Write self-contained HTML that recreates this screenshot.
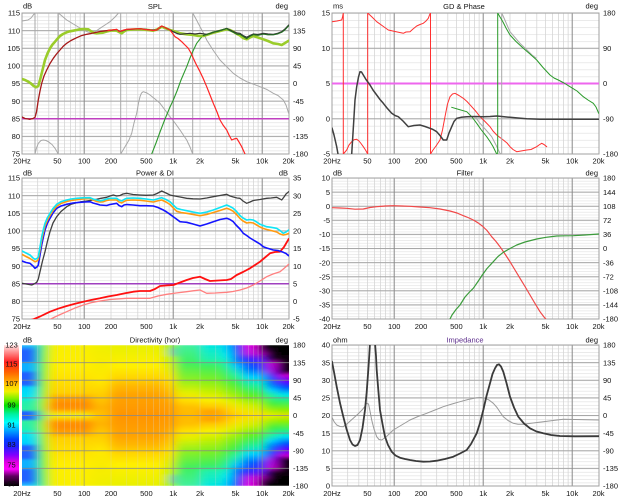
<!DOCTYPE html>
<html><head><meta charset="utf-8">
<style>
html,body{margin:0;padding:0;background:#fff;}
svg{display:block;}
text{font-family:"Liberation Sans",Arial,sans-serif;font-size:7.5px;fill:#111;}
.e{text-anchor:end}.m{text-anchor:middle}
.c{fill:none;stroke-linejoin:round;stroke-linecap:round}
</style></head><body>
<svg width="620" height="500" viewBox="0 0 620 500" xmlns="http://www.w3.org/2000/svg">
<defs>
<path id="vmin" d="M15.67 0v141M26.79 0v141M35.41 0v141M42.46 0v141M48.42 0v141M53.58 0v141M58.14 0v141M89 0v141M104.67 0v141M115.79 0v141M124.41 0v141M131.46 0v141M137.42 0v141M142.58 0v141M147.14 0v141M178 0v141M193.67 0v141M204.79 0v141M213.41 0v141M220.46 0v141M226.42 0v141M231.58 0v141M236.14 0v141" stroke="#d6d6d6" stroke-width="0.8" fill="none"/>
<path id="vmaj" d="M62.21 0v141M151.21 0v141M240.21 0v141" stroke="#8a8a8a" stroke-width="1" fill="none"/>
<pattern id="p1" patternUnits="userSpaceOnUse" x="0" y="13" width="620" height="3.525"><rect y="0" width="620" height="0.7" fill="#e2e2e2"/></pattern>
<pattern id="p2" patternUnits="userSpaceOnUse" x="0" y="13" width="620" height="7.05"><rect y="0" width="620" height="0.7" fill="#e2e2e2"/></pattern>
<pattern id="p3" patternUnits="userSpaceOnUse" x="0" y="178" width="620" height="3.525"><rect y="0" width="620" height="0.7" fill="#e2e2e2"/></pattern>
<pattern id="p4" patternUnits="userSpaceOnUse" x="0" y="178" width="620" height="2.82"><rect y="0" width="620" height="0.7" fill="#e4e4e4"/></pattern>
<pattern id="p5" patternUnits="userSpaceOnUse" x="0" y="345" width="620" height="3.525"><rect y="0" width="620" height="0.7" fill="#e2e2e2"/></pattern>
<clipPath id="c1"><rect x="22" y="13" width="267" height="141"/></clipPath>
<clipPath id="c2"><rect x="332" y="13" width="267" height="141"/></clipPath>
<clipPath id="c3"><rect x="22" y="178" width="267" height="141"/></clipPath>
<clipPath id="c4"><rect x="332" y="178" width="267" height="141"/></clipPath>
<clipPath id="c5"><rect x="22" y="345" width="267" height="141"/></clipPath>
<clipPath id="c6"><rect x="332" y="345" width="267" height="141"/></clipPath>
<filter id="bl" x="-10%" y="-5%" width="120%" height="110%"><feGaussianBlur stdDeviation="5 0.8"/></filter>
<linearGradient id="cb" x1="0" y1="0" x2="0" y2="1">
<stop offset="0" stop-color="#ffe8e8"/><stop offset=".05" stop-color="#ff9090"/><stop offset=".12" stop-color="#ff2020"/><stop offset=".19" stop-color="#ff6000"/><stop offset=".25" stop-color="#ffa000"/><stop offset=".29" stop-color="#ffd000"/><stop offset=".33" stop-color="#f0f000"/><stop offset=".38" stop-color="#80f000"/><stop offset=".43" stop-color="#00e000"/><stop offset=".49" stop-color="#00f0a0"/><stop offset=".55" stop-color="#00ffff"/><stop offset=".6" stop-color="#00b0ff"/><stop offset=".67" stop-color="#0040ff"/><stop offset=".72" stop-color="#2020ff"/><stop offset=".78" stop-color="#8000ff"/><stop offset=".83" stop-color="#e000e0"/><stop offset=".88" stop-color="#ff00ff"/><stop offset=".93" stop-color="#600060"/><stop offset="1" stop-color="#000"/>
</linearGradient>
<linearGradient id="d1" x1="0" y1="0" x2="0" y2="0.5" spreadMethod="reflect"><stop offset="0" stop-color="#20c8ff"/><stop offset=".083" stop-color="#2060ff"/><stop offset=".22" stop-color="#2060ff"/><stop offset=".26" stop-color="#10b0ff"/><stop offset=".36" stop-color="#10b0ff"/><stop offset=".4" stop-color="#2060ff"/><stop offset=".56" stop-color="#2060ff"/><stop offset=".6" stop-color="#00d0ff"/><stop offset=".75" stop-color="#00e8f0"/><stop offset=".8" stop-color="#20f0b0"/><stop offset=".92" stop-color="#30f0a0"/><stop offset=".95" stop-color="#2060ff"/><stop offset="1" stop-color="#2060ff"/></linearGradient>
<linearGradient id="d2" x1="0" y1="0" x2="0" y2="0.5" spreadMethod="reflect"><stop offset="0" stop-color="#30f080"/><stop offset=".3" stop-color="#40f050"/><stop offset=".6" stop-color="#50f040"/><stop offset=".85" stop-color="#80f030"/><stop offset="1" stop-color="#40f080"/></linearGradient>
<linearGradient id="d3" x1="0" y1="0" x2="0" y2="0.5" spreadMethod="reflect"><stop offset="0" stop-color="#b0f010"/><stop offset=".5" stop-color="#d0f000"/><stop offset=".8" stop-color="#f0e000"/><stop offset=".9" stop-color="#ffc800"/><stop offset="1" stop-color="#c0f010"/></linearGradient>
<linearGradient id="d4" x1="0" y1="0" x2="0" y2="0.5" spreadMethod="reflect"><stop offset="0" stop-color="#f8f000"/><stop offset=".3" stop-color="#ffee00"/><stop offset=".5" stop-color="#ffe000"/><stop offset=".68" stop-color="#ffd000"/><stop offset=".76" stop-color="#ffa000"/><stop offset=".84" stop-color="#ff8c00"/><stop offset=".9" stop-color="#ff9400"/><stop offset=".96" stop-color="#ffd000"/><stop offset="1" stop-color="#e8f020"/></linearGradient>
<linearGradient id="d4b" x1="0" y1="0" x2="0" y2="0.5" spreadMethod="reflect"><stop offset="0" stop-color="#f0f000"/><stop offset=".5" stop-color="#ffe800"/><stop offset=".75" stop-color="#ffc800"/><stop offset=".88" stop-color="#ffb400"/><stop offset="1" stop-color="#ffc000"/></linearGradient>
<linearGradient id="d5" x1="0" y1="0" x2="0" y2="0.5" spreadMethod="reflect"><stop offset="0" stop-color="#e8f000"/><stop offset=".3" stop-color="#fff000"/><stop offset=".45" stop-color="#ffd800"/><stop offset=".58" stop-color="#ffb800"/><stop offset=".7" stop-color="#ffa400"/><stop offset=".85" stop-color="#ff9c00"/><stop offset="1" stop-color="#ff9400"/></linearGradient>
<linearGradient id="d6" x1="0" y1="0" x2="0" y2="0.5" spreadMethod="reflect"><stop offset="0" stop-color="#90f020"/><stop offset=".25" stop-color="#c8f000"/><stop offset=".5" stop-color="#ffe000"/><stop offset=".7" stop-color="#ffb800"/><stop offset=".85" stop-color="#ffa000"/><stop offset="1" stop-color="#ff9800"/></linearGradient>
<linearGradient id="d7" x1="0" y1="0" x2="0" y2="0.5" spreadMethod="reflect"><stop offset="0" stop-color="#40f0a0"/><stop offset=".25" stop-color="#40f060"/><stop offset=".5" stop-color="#90f020"/><stop offset=".67" stop-color="#e0f000"/><stop offset=".78" stop-color="#ffe000"/><stop offset=".88" stop-color="#ffc000"/><stop offset="1" stop-color="#ffb800"/></linearGradient>
<linearGradient id="d8" x1="0" y1="0" x2="0" y2="0.5" spreadMethod="reflect"><stop offset="0" stop-color="#00e8e0"/><stop offset=".2" stop-color="#20f0b0"/><stop offset=".3" stop-color="#40f060"/><stop offset=".5" stop-color="#80f020"/><stop offset=".67" stop-color="#c8f000"/><stop offset=".78" stop-color="#f8f000"/><stop offset=".88" stop-color="#ffc800"/><stop offset=".94" stop-color="#ffa400"/><stop offset="1" stop-color="#ffa800"/></linearGradient>
<linearGradient id="d9" x1="0" y1="0" x2="0" y2="0.5" spreadMethod="reflect"><stop offset="0" stop-color="#00c0ff"/><stop offset=".15" stop-color="#00e8f0"/><stop offset=".3" stop-color="#20f0a0"/><stop offset=".5" stop-color="#50f040"/><stop offset=".67" stop-color="#a0f010"/><stop offset=".8" stop-color="#e8f000"/><stop offset=".9" stop-color="#ffd000"/><stop offset="1" stop-color="#ffb800"/></linearGradient>
<linearGradient id="d10" x1="0" y1="0" x2="0" y2="0.5" spreadMethod="reflect"><stop offset="0" stop-color="#0030ff"/><stop offset=".2" stop-color="#0060ff"/><stop offset=".3" stop-color="#00c0ff"/><stop offset=".42" stop-color="#20f0b0"/><stop offset=".55" stop-color="#40f040"/><stop offset=".7" stop-color="#90f010"/><stop offset=".83" stop-color="#e0f000"/><stop offset=".93" stop-color="#ffe000"/><stop offset="1" stop-color="#ffd000"/></linearGradient>
<linearGradient id="d11" x1="0" y1="0" x2="0" y2="0.5" spreadMethod="reflect"><stop offset="0" stop-color="#e000e0"/><stop offset=".12" stop-color="#c010e0"/><stop offset=".2" stop-color="#4020ff"/><stop offset=".33" stop-color="#0060ff"/><stop offset=".45" stop-color="#00d0ff"/><stop offset=".58" stop-color="#20f090"/><stop offset=".72" stop-color="#60f020"/><stop offset=".86" stop-color="#d0f000"/><stop offset="1" stop-color="#ffe000"/></linearGradient>
<linearGradient id="d12" x1="0" y1="0" x2="0" y2="0.5" spreadMethod="reflect"><stop offset="0" stop-color="#000"/><stop offset=".12" stop-color="#a000b0"/><stop offset=".22" stop-color="#6020ff"/><stop offset=".33" stop-color="#0040ff"/><stop offset=".44" stop-color="#00b0ff"/><stop offset=".55" stop-color="#00f0c0"/><stop offset=".7" stop-color="#40f040"/><stop offset=".86" stop-color="#b0f000"/><stop offset="1" stop-color="#ffe000"/></linearGradient>
<linearGradient id="d13" x1="0" y1="0" x2="0" y2="0.5" spreadMethod="reflect"><stop offset="0" stop-color="#000"/><stop offset=".18" stop-color="#200020"/><stop offset=".26" stop-color="#c000d0"/><stop offset=".38" stop-color="#a000e0"/><stop offset=".46" stop-color="#3030ff"/><stop offset=".55" stop-color="#0060ff"/><stop offset=".64" stop-color="#00d0ff"/><stop offset=".72" stop-color="#20f0a0"/><stop offset=".83" stop-color="#40f040"/><stop offset=".94" stop-color="#b0f000"/><stop offset="1" stop-color="#e0f000"/></linearGradient>
<linearGradient id="d14" x1="0" y1="0" x2="0" y2="0.5" spreadMethod="reflect"><stop offset="0" stop-color="#000"/><stop offset=".36" stop-color="#100010"/><stop offset=".43" stop-color="#c000d0"/><stop offset=".52" stop-color="#6000ff"/><stop offset=".6" stop-color="#0050ff"/><stop offset=".7" stop-color="#00e0f0"/><stop offset=".8" stop-color="#30f070"/><stop offset=".92" stop-color="#90f000"/><stop offset="1" stop-color="#e0e000"/></linearGradient>
</defs>

<rect width="620" height="500" fill="#fff"/>

<!-- ========== GRIDS ========== -->
<rect x="22" y="13" width="267" height="141" fill="url(#p1)"/>
<use href="#vmin" x="22" y="13"/>
<path d="M22 30.63h267M22 48.25h267M22 65.88h267M22 83.5h267M22 101.13h267M22 118.75h267M22 136.38h267" stroke="#a8a8a8" stroke-width="1" fill="none"/>
<use href="#vmaj" x="22" y="13"/>
<rect x="22" y="13" width="267" height="141" fill="none" stroke="#a0a0a0" stroke-width="1"/>

<rect x="332" y="13" width="267" height="141" fill="url(#p2)"/>
<use href="#vmin" x="332" y="13"/>
<path d="M332 48.25h267M332 83.5h267M332 118.75h267" stroke="#a8a8a8" stroke-width="1" fill="none"/>
<use href="#vmaj" x="332" y="13"/>
<rect x="332" y="13" width="267" height="141" fill="none" stroke="#a0a0a0" stroke-width="1"/>

<rect x="22" y="178" width="267" height="141" fill="url(#p3)"/>
<use href="#vmin" x="22" y="178"/>
<path d="M22 195.63h267M22 213.25h267M22 230.88h267M22 248.5h267M22 266.13h267M22 283.75h267M22 301.38h267" stroke="#a8a8a8" stroke-width="1" fill="none"/>
<use href="#vmaj" x="22" y="178"/>
<rect x="22" y="178" width="267" height="141" fill="none" stroke="#a0a0a0" stroke-width="1"/>

<rect x="332" y="178" width="267" height="141" fill="url(#p4)"/>
<use href="#vmin" x="332" y="178"/>
<path d="M332 192.1h267M332 206.2h267M332 220.3h267M332 234.4h267M332 248.5h267M332 262.6h267M332 276.7h267M332 290.8h267M332 304.9h267" stroke="#a8a8a8" stroke-width="1" fill="none"/>
<use href="#vmaj" x="332" y="178"/>
<rect x="332" y="178" width="267" height="141" fill="none" stroke="#a0a0a0" stroke-width="1"/>

<rect x="332" y="345" width="267" height="141" fill="url(#p5)"/>
<use href="#vmin" x="332" y="345"/>
<path d="M332 362.63h267M332 380.25h267M332 397.88h267M332 415.5h267M332 433.13h267M332 450.75h267M332 468.38h267" stroke="#a8a8a8" stroke-width="1" fill="none"/>
<use href="#vmaj" x="332" y="345"/>
<rect x="332" y="345" width="267" height="141" fill="none" stroke="#a0a0a0" stroke-width="1"/>

<!-- ========== DIRECTIVITY HEATMAP ========== -->
<g clip-path="url(#c5)">
<g filter="url(#bl)">
<rect x="0" y="345" width="37.5" height="141" fill="url(#d1)"/>
<rect x="37" y="345" width="8.5" height="141" fill="url(#d2)"/>
<rect x="45" y="345" width="5.5" height="141" fill="url(#d3)"/>
<rect x="50" y="345" width="42.5" height="141" fill="url(#d4)"/>
<rect x="92" y="345" width="18.5" height="141" fill="url(#d4b)"/>
<rect x="110" y="345" width="55.5" height="141" fill="url(#d5)"/>
<rect x="165" y="345" width="11.5" height="141" fill="url(#d6)"/>
<rect x="176" y="345" width="24.5" height="141" fill="url(#d7)"/>
<rect x="200" y="345" width="22.5" height="141" fill="url(#d8)"/>
<rect x="222" y="345" width="10.5" height="141" fill="url(#d9)"/>
<rect x="232" y="345" width="11.5" height="141" fill="url(#d10)"/>
<rect x="243" y="345" width="15.5" height="141" fill="url(#d11)"/>
<rect x="258" y="345" width="8.5" height="141" fill="url(#d12)"/>
<rect x="266" y="345" width="12.5" height="141" fill="url(#d13)"/>
<rect x="278" y="345" width="36" height="141" fill="url(#d14)"/>
<ellipse cx="173" cy="352" rx="1.5" ry="5" fill="#2080ff"/>
<ellipse cx="173" cy="479" rx="1.5" ry="5" fill="#2080ff"/>
</g>
<use href="#vmin" x="22" y="345" opacity="0.35"/>
<use href="#vmaj" x="22" y="345" opacity="0.6"/>
<path d="M22 362.63h267M22 380.25h267M22 397.88h267M22 415.5h267M22 433.13h267M22 450.75h267M22 468.38h267" stroke="#8a8a8a" stroke-width="1" opacity="0.8" fill="none"/>
</g>
<rect x="4" y="345" width="15" height="141" fill="url(#cb)"/>

<!-- ========== SPL CURVES ========== -->
<g clip-path="url(#c1)">
<path class="c" stroke="#a8a8a8" stroke-width="1" d="M22,21 28,20 31,18 33.3,15 35,13 L35,154 36.5,148 38.3,143.3 41,140.5 43.3,140 46,140.5 48.3,141.7 52,144.5 55,148.3 58.3,154 L58.3,13 62,16 66.7,20 75,25 83.3,30 88,32 91.7,33.3 96,31 100,28.3 105,25 110,21.7 115,17 118.3,13.3 120.7,13 L120.7,154 125,146.7 129,140 131.7,133.3 134,123 136.7,113.3 138.5,103 140,96.7 141.5,93 143.3,91.7 147,93 150,95 155,99 160,103.3 165,110 170,116.7 175,123 180,130 184,136 186.7,140 190,147 192.7,154 L192.7,13 196,19 200,26.7 204,34 206.7,40 213,50 220,60 226,66 233.3,73.3 240,78 246.7,81.7 253,84 260,86.7 267,89.5 273.3,93.3 278,95.5 283.3,100 286,105 288.7,113.3"/>
<path class="c" stroke="#c040c0" stroke-width="1.5" d="M22 118.75H289"/>
<path class="c" stroke="#2f9a2f" stroke-width="1.1" d="M151.7,154 156,143 160,132 165,119 170,107 173.3,100 177,91 181,80 186.7,66.7 190,58 193,51 196.7,43.3 200,39 203.3,35 207,34"/>
<path class="c" stroke="#9acc2a" stroke-width="2.6" d="M22,79 25,80 28.3,81.7 31,83.5 33.3,85.7 36,87.3 38.3,86 40,80 41.7,73.3 43.5,66 45,60 47.5,53.5 50,48.3 52.5,44.5 55,41.7 57.5,38.7 60,36 63,34 66.7,32.3 70,31.3 73.3,30.7 76.7,30 80,29.3 84,29 88.3,29.3 90,30.5 91.7,31.7 94,32.8 96.7,33.3 100,33 103,32.7 106.7,31.5 110,30.7 113,30.5 116.7,30.7 119,32 121.7,33.3 124,31.5 126.7,30 133,29.5 140,29.3 146,29.8 153.3,30.7 157,29.5 161.7,26.7 165,28 170,30 175,31.5 180,33.3 186.7,34.3 193.3,35 198,35.8 203.3,36 208,34.5 213.3,32.7 220,31 226.7,29.3 230,30 233.3,31.7 237,34 240,35.5 243,38 246.7,39.3 250,37.5 253.3,36 258,37.5 263.3,39.3 268,41 273.3,43.3 278,44 281.7,45 285,43 288.7,40.7"/>
<path class="c" stroke="#333" stroke-width="1.2" d="M110,30.5 116.7,29.5 120,31.5 126.7,29.5 140,28.7 150,29.8 156.7,30 161.7,26 166,28 170,30 173.3,31.7 177,33.5 180,34.3 185,33.8 190,33.3 195,34 200,33.3 206.7,34.3 210,33.5 213.3,32.3 218,31 222,30 226.7,28.3 230,30 233.3,31.5 237,33 240,33.3 243,35.5 246.7,37.3 250,35.5 253.3,34 258,34.5 263.3,33.3 268,34 273.3,34.3 278,33.2 281.7,31.7 285,29 288.7,25"/>
<path class="c" stroke="#236b23" stroke-width="1.1" d="M203.3,35.5 207,34.5 210,33.5 213.3,32 218,31.3 222,29.8 226.7,28.6 230,30.8 233.3,32.3 237,34.3 240,34.3 243,36.3 246.7,38.6 250,36.3 253.3,34.6 258,35.3 263.3,34.1 268,34.8 273.3,34.8 278,33.8 281.7,32.3 285,29.8 288.7,25.8"/>
<path class="c" stroke="#a51818" stroke-width="1.3" d="M22,117 25,118.5 28,119 30,119.3 33,118.5 35,117.3 36.5,112 38.3,100 40,91 41.7,83.3 44,76 46.7,70 50,63.5 53.3,58.3 56.5,54 60,50 63,46.5 66.7,43.3 71,40.5 76.7,37.7 81,35.8 86.7,34.3 91,33.5 96.7,32.3 101,31.3 106.7,30.7 110,30.2"/>
<path class="c" stroke="#ff2424" stroke-width="1.2" d="M108,30.5 112,30 116.7,29.3 119,31.5 121,31 124,30 126.7,29.3 133,29 140,28.7 145,29.5 150,30 153,30.5 156.7,30 159,28 161.7,26 165,27.5 170,30 175,36.7 178,38.5 181.7,41.7 185,45 188.3,48.3 191,53 193.3,58.3 196,64 200,71.7 203,78 206.7,86.7 210,95 213.3,103.3 217,112 220,120 223,125 226.7,130 229,135 231.7,140 234,139 236.7,138.3 239,142 241.7,146.7 245,154"/>
</g>

<!-- ========== GD CURVES ========== -->
<g clip-path="url(#c2)">
<path class="c" stroke="#ee66ee" stroke-width="2" d="M332 83.5H599"/>
<path class="c" stroke="#ff3030" stroke-width="1" d="M332,21.7 337,21 341.7,20 342.5,17 343.3,13 L343.3,154 345,152 346.7,150 349,145 351.7,141.7 354,139.7 356.7,139.3 359,141 361,143.5 363.3,146.7 365.5,150 367.7,154 L367.7,13 372,17 376.7,21.7 382,25.5 388.3,30 395,31.5 403.3,33.3 406,32 410,31.7 413,29 416.7,26 420,24.5 423.3,23.3 426,21 428.3,18.3 429.5,15 430.5,13 L430.5,154 433,150 436,146 440,140 442.5,130 445,116.7 447.5,104 450,96.7 452.5,94 455,93.3 459,95.5 463.3,98.3 467,101.5 471.7,106.7 476,111.5 480,116.7 485,121.5 490,126.7 493,131 496.7,135 500,137.5 503.3,140 507,143 510,146.7 513,149.5 516.7,151.7 521,151 526.7,150 531,149.5 536.7,146.7 539,145 541.7,143.3 544,144.5 546.7,146.7"/>
<path class="c" stroke="#a8a8a8" stroke-width="1" d="M476,118 480,123.3 486,130 491.7,136.7 496,145 500,153.3 501.7,154 L501.7,13 504,18 507,25 510,31.7 515,37.5 520,43.3 526,49 532,55 536,58"/>
<path class="c" stroke="#2a9a2a" stroke-width="1" d="M451.7,107.3 459,109.5 466.7,111.7 472,117 476.7,123.3 481,129.5 486.7,136.7 490,141.5 493,146.5 496.7,154 L497.7,154 L497.7,13 500,17 503,22 506,28 510,35 516,41.5 523.3,48.3 530,54 536.7,60 543,67.5 550,75 554,78 558.3,80 564,83 570,86.7 577,91 583.3,96.7 588,100 593.3,103.3 596,107 598.7,113.3"/>
<path class="c" stroke="#404040" stroke-width="1.5" d="M332,128 334,135 336.7,146.7 338,154 M351.7,154 353.5,125 355,100 356.7,86.7 358.5,77 360,71.7 361.5,72 363.3,75 366,79.5 370,85 373,90 376.7,95 380,99.5 383.3,103.3 387,108 391.7,113.3 395,115.5 398.3,116.7 403,121 408.3,126.7 414,125.5 420,125 425,126.5 430,128.3 433,129.5 436.7,131.7 440,135.5 443.3,140 446.7,140 449,133 451.7,126.7 454,121.5 456.7,118.3 461,117.3 466.7,116.7 475,116.5 483.3,116.7 490,116.5 496.7,116 503,116.6 510,117.3 518,118 526.7,118.7 540,119.2 550,119.3 570,119.3 599,119.3"/>
</g>

<!-- ========== POWER & DI CURVES ========== -->
<g clip-path="url(#c3)">
<path class="c" stroke="#a040c0" stroke-width="1.5" d="M22 283.75H289"/>
<path class="c" stroke="#ff8080" stroke-width="1.3" d="M48,320 50,319.3 58,315.5 66.7,311.7 75,308 83.3,305 91,302.8 100,301 110,299.5 126.7,298.3 140,298.3 150,298.3 158,296 166.7,294.3 176,293 186.7,291.7 193,290.8 200,290 206.7,293.3 215,293 226.7,292.3 233,291.5 240,290 246.7,288 253.3,285 260,281 266.7,276.7 273,274 280,271.7 284.5,268 288.7,264.3"/>
<path class="c" stroke="#ff1010" stroke-width="1.8" d="M22,323 27,321 33.3,319.3 40,316.5 50,311.7 58,308.7 66.7,306 75,303.8 83.3,301.7 91,300 100,298.3 108,296.5 116.7,295 125,293.3 133.3,291.7 140,291 150,291 155,289 160,286 166,285.5 173.3,285 180,282.5 186.7,280 193,278 200,276.7 205,279 210,281 218,280.5 226.7,280 231,279 236.7,275 243,272 250,268.3 255,265 260,261.7 265,257.5 270,253.3 275,252 280,251.7 284,247 288.7,239"/>
<path class="c" stroke="#404040" stroke-width="1.3" d="M22,283.3 26,284 29,284.5 31.7,285 34,284 36.7,282.3 38.3,279 40,271.7 42.5,261 45,251.7 47.5,241 50,231.7 53,223 56.7,216.7 61,211.5 66.7,206.7 71,204.3 76.7,202.7 81,201.8 86.7,201 91,200.3 96.7,199.3 101,198.3 106.7,197.3 110,196 113.3,195 116.7,196 120,195.5 123,194 126.7,193.3 133,194.5 140,195 146,195.3 153.3,195 157,193.5 161.7,191 166,193 170,195 173.3,195.7 180,197 186.7,198.3 193,198.8 200,199 206.7,198 213.3,196.7 220,195.5 226.7,194.3 230,196 233.3,197 237,198 240,198.3 243,201 246.7,203.3 250,202 253.3,200.5 256.7,200 260,199.5 266.7,198.3 271,198 276.7,197.3 280,199 281.7,200 284,197 286,194 288.7,191.7"/>
<path class="c" stroke="#1414ff" stroke-width="1.6" d="M22,261 26,262.5 30,263.3 33,266 35,268.3 37,267 38.3,265 40,255 41.7,245 43.5,236.5 45,230 47.5,223 50,218.3 53,213 56.7,208.3 61,206 66.7,204.3 73,203 80,202.3 85,202 90,201.7 93,203 96.7,204 100,205 106.7,205.5 110,204.5 116.7,203.3 119,205.5 121.7,206.7 124,205 126.7,204.5 133,205 140,205.7 146,205.7 153.3,206 158,207.5 163.3,210 166.7,212 170,214.3 175,218 180,221.7 183,222 186.7,222.3 193,224 200,226 206.7,224 213.3,221.7 220,219.5 226.7,218.3 230,219.5 233.3,221.7 236,225 240,229 243.3,233.3 246.7,235.5 250,238 253.3,240 256.7,242 260,244 263.3,246.7 266.7,248 273.3,250 278,250.5 283.3,252.3 286,253.5 288.7,255.7"/>
<path class="c" stroke="#ff9a10" stroke-width="1.6" d="M22,254.3 26,256.5 30,258.5 33,260.5 35,261.7 37,261 38.3,259.5 40,250 41.7,240 43.5,232 45,226 47.5,220 50,215.5 53,210.5 56.7,206.3 61,203.5 66.7,201.5 71,200.5 76.7,199.7 83,199 90,198.5 93,200 96.7,201.5 100,202 103,201.8 106.7,200.5 110,200 116.7,200 119,202 121.7,203 124,201.5 126.7,200.3 133,200 140,200.3 146,201 153.3,202 157,201 161.7,200 166,202 170,204.5 173.3,208 176.7,211.3 181,212.5 186.7,213.3 193,214.5 200,215.7 206.7,214.5 213.3,212.5 220,210.5 226.7,208.3 230,209.5 233.3,211.3 237,215 240,218.5 243,221 246.7,223 250,222.5 253.3,223 256.7,225 260,227 263.3,228.5 266.7,229.5 271,230.5 276.7,232 280,234 283.3,235 286,234.5 288.7,233.5"/>
<path class="c" stroke="#10e4f4" stroke-width="1.6" d="M22,251 26,253 30,255 33,258 35,259.3 37,258.5 38.3,256.7 40,247 41.7,236.7 43.5,229 45,223.3 47.5,217.5 50,213.3 53,208.5 56.7,204.3 61,201.7 66.7,200 71,199 76.7,198.3 83,197.8 90,197.7 93,199 96.7,200 100,200.8 103,200.3 106.7,199 110,198.3 116.7,198.3 119,200 121.7,201 124,199.5 126.7,198.3 133,198 140,198.3 146,199 153.3,200 157,199 161.7,197.7 166,199.5 170,201.7 173.3,205 176.7,208.3 181,209.5 186.7,210.7 193,212 200,213.3 206.7,212 213.3,210 220,207.5 226.7,205 230,206.5 233.3,208.3 237,212 240,215.5 243,218 246.7,220 250,219.5 253.3,220 256.7,222 260,224.3 263.3,225.5 266.7,226.7 271,227.3 276.7,228.3 280,230.5 283.3,233.3 286,232 288.7,230"/>
</g>

<!-- ========== FILTER CURVES ========== -->
<g clip-path="url(#c4)">
<path class="c" stroke="#f04848" stroke-width="1.2" d="M332,207.7 340,208 346.7,208.3 355,209.2 363.3,209 370,207.5 376.7,206.7 385,206 393.3,205.7 402,206 410,206.3 420,207 430,207.7 440,209 450,211 457,213 463.3,215.7 468,217.5 473.3,220 478,222.8 482.3,226 487,230.5 491.7,236.7 496,241.5 500,246.7 505,254 510,261.7 515,270 520,278.3 525,286.5 530,295 535,303.5 540,311.7 544,317 548.3,321.7"/>
<path class="c" stroke="#3c9c3c" stroke-width="1.2" d="M449,321 452,315 456,309.5 460,305 465,297 470,291.5 473.3,288.3 478,281.5 482.3,275 487,268.5 493.3,261.7 498,256.5 503.3,252.3 510,248.5 516.7,245 525,242 536.7,239 546,237.3 556.7,236 565,235.8 573.3,235.7 585,235 598.7,234"/>
</g>

<!-- ========== IMPEDANCE CURVES ========== -->
<g clip-path="url(#c6)">
<path class="c" stroke="#9a9a9a" stroke-width="1" d="M332,417.3 334,421.5 336.7,425 340,426.5 343.3,426.7 348,423 353.3,418.3 358,414 362,410 364.5,407 366.7,403.3 368.5,404 370,411 371.7,420 374,429 376.7,436.7 379,439.5 381.7,440 386,437 393.3,430 400,426 410,420 418,416.5 426.7,413.3 435,410 443.3,406.7 452,404 460,401.7 468,399.5 476.7,397.7 481,397.5 485,398.3 489,400 493.3,403.3 497,407.5 500,412 503.3,416.7 508,420.5 513.3,423.3 518,424.2 523.3,424.3 533,423 543.3,421.7 553,420.5 563.3,419.3 575,419.5 598.7,420"/>
<path class="c" stroke="#3a3a3a" stroke-width="1.8" d="M332,361.7 334,372 336.7,386.7 340,403 343.3,416.7 346.5,429 350,440 352.5,444.5 355,446 357.5,445 360,440 362.5,428 365,410 366.7,392 368.3,370 369.3,355 370,343 M375,343 376,356 376.7,370 378.3,390 380,410 382.5,424 385,436.7 388,445 391.7,451.7 395.5,455.5 400,457.7 405,459 410,460 416,461 423.3,461.7 430,461.5 436.7,460.7 445,459 453.3,456.7 460,453.5 466.7,450 471,444 476.7,433.3 480,423 483.3,410 486.5,396 490,383.3 492.5,374 495,368.3 497,365 499,364.3 501,366.5 503.3,371.7 506.5,383 510,396.7 514,407.5 518.3,416.7 524,423.5 530,428.3 536.5,431.5 543.3,433.3 551,435 560,436 575,436.3 598.7,436.2"/>
</g>

<!-- ========== TEXT ========== -->
<text class="m" x="155" y="9">SPL</text>
<text class="m" x="464" y="9">GD &amp; Phase</text>
<text class="m" x="155" y="175.5">Power &amp; DI</text>
<text class="m" x="465" y="175.5">Filter</text>
<text class="m" x="155" y="342.5">Directivity (hor)</text>
<text class="m" x="465" y="342.5" style="fill:#5a2a8a">Impedance</text>

<text x="23" y="8.5">dB</text><text class="e" x="288" y="8.5">deg</text>
<text x="333" y="8.5">ms</text><text class="e" x="598" y="8.5">deg</text>
<text x="23" y="175.5">dB</text><text class="e" x="288" y="175.5">dB</text>
<text x="333" y="175.5">dB</text><text class="e" x="598" y="175.5">deg</text>
<text x="23" y="342.5">dB</text><text class="e" x="288" y="342.5">deg</text>
<text x="333" y="342.5">ohm</text><text class="e" x="598" y="342.5">deg</text>

<text class="e" x="20" y="15.7">115</text><text class="e" x="20" y="33.3">110</text><text class="e" x="20" y="51">105</text><text class="e" x="20" y="68.6">100</text><text class="e" x="20" y="86.2">95</text><text class="e" x="20" y="103.8">90</text><text class="e" x="20" y="121.5">85</text><text class="e" x="20" y="139.1">80</text><text class="e" x="20" y="156.7">75</text>
<text x="293" y="15.7">180</text><text x="293" y="33.3">135</text><text x="293" y="51">90</text><text x="293" y="68.6">45</text><text x="293" y="86.2">0</text><text x="293" y="103.8">-45</text><text x="293" y="121.5">-90</text><text x="293" y="139.1">-135</text><text x="293" y="156.7">-180</text>

<text class="e" x="330" y="15.7">15</text><text class="e" x="330" y="51">10</text><text class="e" x="330" y="86.2">5</text><text class="e" x="330" y="121.5">0</text><text class="e" x="330" y="156.7">-5</text>
<text x="603" y="15.7">180</text><text x="603" y="51">90</text><text x="603" y="86.2">0</text><text x="603" y="121.5">-90</text><text x="603" y="156.7">-180</text>

<text class="e" x="20" y="180.7">115</text><text class="e" x="20" y="198.3">110</text><text class="e" x="20" y="216">105</text><text class="e" x="20" y="233.6">100</text><text class="e" x="20" y="251.2">95</text><text class="e" x="20" y="268.8">90</text><text class="e" x="20" y="286.5">85</text><text class="e" x="20" y="304.1">80</text><text class="e" x="20" y="321.7">75</text>
<text x="293" y="180.7">35</text><text x="293" y="198.3">30</text><text x="293" y="216">25</text><text x="293" y="233.6">20</text><text x="293" y="251.2">15</text><text x="293" y="268.8">10</text><text x="293" y="286.5">5</text><text x="293" y="304.1">0</text><text x="293" y="321.7">-5</text>

<text class="e" x="330" y="180.7">10</text><text class="e" x="330" y="194.8">5</text><text class="e" x="330" y="208.9">0</text><text class="e" x="330" y="223">-5</text><text class="e" x="330" y="237.1">-10</text><text class="e" x="330" y="251.2">-15</text><text class="e" x="330" y="265.3">-20</text><text class="e" x="330" y="279.4">-25</text><text class="e" x="330" y="293.5">-30</text><text class="e" x="330" y="307.6">-35</text><text class="e" x="330" y="321.7">-40</text>
<text x="603" y="180.7">180</text><text x="603" y="194.8">144</text><text x="603" y="208.9">108</text><text x="603" y="223">72</text><text x="603" y="237.1">36</text><text x="603" y="251.2">0</text><text x="603" y="265.3">-36</text><text x="603" y="279.4">-72</text><text x="603" y="293.5">-108</text><text x="603" y="307.6">-144</text><text x="603" y="321.7">-180</text>

<text class="m" x="11.5" y="347.7">123</text><text class="m" x="11.5" y="366.7">115</text><text class="m" x="11.5" y="386">107</text><text class="m" x="11.5" y="407.7">99</text><text class="m" x="11.5" y="427.7">91</text><text class="m" x="11.5" y="447">83</text><text class="m" x="11.5" y="467.7">75</text><text class="m" x="11.5" y="486.7">67</text>
<text x="293" y="347.7">180</text><text x="293" y="365.3">135</text><text x="293" y="383">90</text><text x="293" y="400.6">45</text><text x="293" y="418.2">0</text><text x="293" y="435.8">-45</text><text x="293" y="453.5">-90</text><text x="293" y="471.1">-135</text><text x="293" y="488.7">-180</text>

<text class="e" x="330" y="347.7">40</text><text class="e" x="330" y="365.3">35</text><text class="e" x="330" y="383">30</text><text class="e" x="330" y="400.6">25</text><text class="e" x="330" y="418.2">20</text><text class="e" x="330" y="435.8">15</text><text class="e" x="330" y="453.5">10</text><text class="e" x="330" y="471.1">5</text><text class="e" x="330" y="488.7">0</text>
<text x="603" y="347.7">180</text><text x="603" y="365.3">135</text><text x="603" y="383">90</text><text x="603" y="400.6">45</text><text x="603" y="418.2">0</text><text x="603" y="435.8">-45</text><text x="603" y="453.5">-90</text><text x="603" y="471.1">-135</text><text x="603" y="488.7">-180</text>

<g id="xl1">
<text class="m" x="22" y="163.5">20Hz</text><text class="m" x="57.4" y="163.5">50</text><text class="m" x="84.2" y="163.5">100</text><text class="m" x="111" y="163.5">200</text><text class="m" x="146.4" y="163.5">500</text><text class="m" x="173.2" y="163.5">1k</text><text class="m" x="200" y="163.5">2k</text><text class="m" x="235.4" y="163.5">5k</text><text class="m" x="262.2" y="163.5">10k</text><text class="m" x="288.5" y="163.5">20k</text>
</g>
<use href="#xl1" x="310" y="0"/>
<use href="#xl1" x="0" y="165.5"/>
<use href="#xl1" x="310" y="165.5"/>
<use href="#xl1" x="0" y="332.5"/>
<use href="#xl1" x="310" y="332.5"/>
</svg>
</body></html>
